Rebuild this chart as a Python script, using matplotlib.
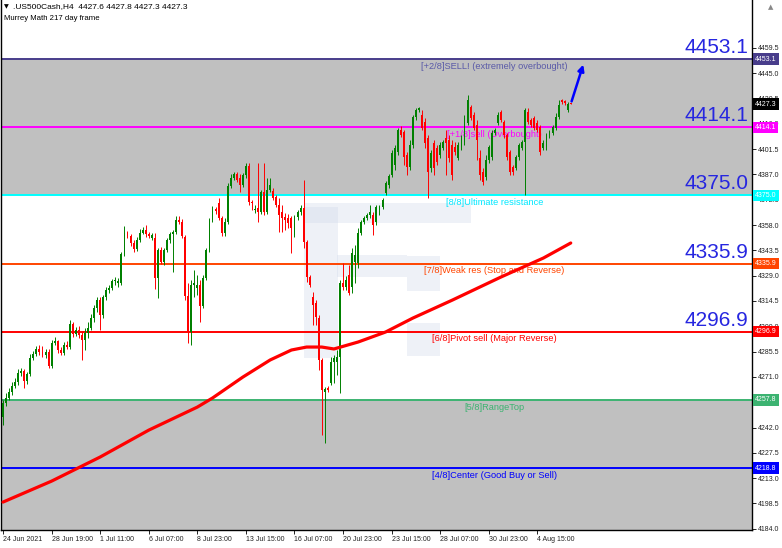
import numpy as np
import matplotlib.pyplot as plt
from matplotlib.patches import Rectangle

plt.rcParams['font.family'] = ['Liberation Sans', 'DejaVu Sans']

# H4 candles, .US500Cash, 24 Jun - 5 Aug 2021
opens = [
    4248.0, 4256.0, 4258.9, 4262.3, 4265.8, 4268.1, 4273.2, 4274.4, 4268.6, 4272.6,
    4281.8, 4284.1, 4287.0, 4285.2, 4283.5, 4285.2, 4277.2, 4290.4, 4291.5, 4286.4,
    4284.7, 4289.3, 4288.1, 4301.3, 4295.5, 4297.8, 4295.0, 4292.1, 4296.1, 4299.0,
    4304.7, 4310.4, 4315.0, 4306.4, 4316.8, 4320.8, 4321.9, 4325.9, 4324.8, 4324.8,
    4341.4, 4353.4, 4351.7, 4347.7, 4344.3, 4349.4, 4353.4, 4355.1, 4352.8, 4350.6,
    4350.6, 4327.6, 4343.7, 4336.8, 4343.7, 4349.4, 4352.8, 4354.0, 4360.9, 4359.7,
    4351.1, 4317.3, 4296.7, 4323.6, 4321.9, 4323.6, 4311.6, 4327.6, 4343.7, 4360.9,
    4367.2, 4370.6, 4362.0, 4353.4, 4359.7, 4380.3, 4384.9, 4387.2, 4384.9, 4380.9,
    4386.6, 4391.8, 4371.2, 4366.6, 4367.7, 4365.4, 4376.9, 4365.4, 4378.0, 4377.5,
    4374.0, 4369.5, 4365.4, 4362.6, 4362.0, 4362.0, 4352.3, 4362.6, 4365.4, 4367.7,
    4348.3, 4328.2, 4316.8, 4313.3, 4304.7, 4280.7, 4262.3, 4264.6, 4267.5, 4279.5,
    4279.5, 4282.4, 4324.8, 4322.5, 4329.4, 4322.5, 4336.8, 4336.2, 4353.4, 4359.7,
    4362.0, 4363.7, 4363.7, 4359.7, 4366.6, 4368.3, 4376.3, 4380.9, 4386.6, 4392.4,
    4399.8, 4412.4, 4411.3, 4398.1, 4391.2, 4403.8, 4419.9, 4423.9, 4421.0, 4417.0,
    4407.8, 4390.7, 4405.0, 4402.1, 4398.1, 4402.1, 4407.8, 4406.7, 4403.8, 4402.7,
    4396.4, 4402.7, 4405.6, 4416.4, 4425.6, 4421.0, 4415.3, 4396.4, 4388.4, 4385.5,
    4395.2, 4397.0, 4410.7, 4416.4, 4422.7, 4417.0, 4409.6, 4399.8, 4391.2, 4390.7,
    4397.0, 4402.1, 4405.6, 4422.7, 4418.2, 4419.3, 4416.4, 4414.1, 4402.1, 4402.7,
    4409.6, 4410.7, 4413.6, 4419.9, 4429.6, 4429.0, 4423.9, 4427.6]
highs = [
    4257.7, 4261.7, 4264.6, 4268.1, 4270.3, 4275.5, 4276.1, 4275.5, 4273.8, 4284.1,
    4285.8, 4288.7, 4289.3, 4288.7, 4287.0, 4287.0, 4292.1, 4293.8, 4292.1, 4288.1,
    4291.0, 4291.5, 4303.6, 4302.4, 4299.6, 4300.1, 4297.3, 4299.0, 4302.4, 4307.0,
    4312.2, 4316.8, 4316.8, 4317.9, 4322.5, 4323.6, 4327.1, 4328.2, 4327.6, 4342.5,
    4357.4, 4354.6, 4352.8, 4349.4, 4351.1, 4355.7, 4356.9, 4358.0, 4354.0, 4353.4,
    4353.4, 4344.8, 4345.4, 4344.8, 4350.6, 4354.0, 4355.1, 4363.2, 4363.2, 4361.4,
    4352.3, 4324.8, 4326.5, 4332.2, 4329.4, 4326.5, 4329.4, 4344.8, 4362.0, 4368.9,
    4368.3, 4373.5, 4363.2, 4362.0, 4382.1, 4387.2, 4388.4, 4388.4, 4387.2, 4387.8,
    4393.5, 4393.5, 4372.3, 4369.5, 4393.5, 4378.0, 4393.5, 4384.9, 4384.9, 4379.2,
    4375.2, 4373.5, 4369.5, 4364.9, 4364.3, 4363.2, 4363.7, 4366.6, 4369.5, 4383.8,
    4349.4, 4329.4, 4319.6, 4315.0, 4306.4, 4281.8, 4265.2, 4265.8, 4282.4, 4283.5,
    4286.4, 4326.5, 4336.2, 4328.8, 4335.1, 4344.8, 4346.5, 4356.3, 4360.9, 4363.2,
    4364.9, 4369.5, 4365.4, 4369.5, 4369.5, 4373.5, 4383.2, 4387.2, 4401.0, 4403.8,
    4413.6, 4414.7, 4412.4, 4399.8, 4406.7, 4421.0, 4425.0, 4425.6, 4423.9, 4419.3,
    4409.6, 4401.0, 4406.7, 4403.8, 4405.6, 4406.7, 4412.4, 4409.6, 4406.7, 4405.6,
    4405.6, 4409.6, 4421.0, 4432.5, 4426.7, 4422.7, 4418.2, 4401.0, 4390.7, 4398.1,
    4403.8, 4412.4, 4413.6, 4422.7, 4423.9, 4418.2, 4410.7, 4401.0, 4392.4, 4398.1,
    4405.0, 4406.7, 4425.0, 4425.0, 4419.3, 4420.4, 4418.2, 4415.3, 4406.7, 4410.7,
    4412.4, 4415.3, 4422.2, 4429.6, 4430.2, 4429.6, 4428.5, 4427.8]
lows = [
    4243.4, 4254.3, 4257.7, 4260.6, 4264.6, 4266.3, 4271.5, 4264.6, 4266.9, 4271.5,
    4280.7, 4283.0, 4283.5, 4282.4, 4281.8, 4276.1, 4276.1, 4289.3, 4284.7, 4283.5,
    4283.5, 4287.0, 4287.0, 4293.8, 4294.4, 4293.3, 4280.7, 4286.4, 4293.3, 4297.8,
    4302.4, 4308.2, 4297.8, 4304.7, 4315.0, 4319.0, 4320.8, 4323.6, 4322.5, 4323.6,
    4340.2, 4350.6, 4346.0, 4342.5, 4343.1, 4348.3, 4352.8, 4351.1, 4350.6, 4349.4,
    4321.3, 4316.2, 4335.7, 4335.1, 4342.5, 4347.7, 4331.1, 4352.8, 4358.6, 4350.6,
    4315.0, 4290.4, 4289.3, 4316.8, 4317.9, 4302.4, 4310.4, 4326.5, 4342.5, 4359.7,
    4364.3, 4360.9, 4351.7, 4351.7, 4358.6, 4379.2, 4383.8, 4382.6, 4376.9, 4379.8,
    4384.9, 4369.5, 4366.6, 4364.9, 4359.7, 4364.3, 4363.7, 4364.3, 4376.9, 4372.3,
    4368.3, 4354.0, 4354.0, 4355.1, 4356.3, 4342.0, 4351.1, 4360.9, 4363.7, 4344.8,
    4325.3, 4322.5, 4300.7, 4300.7, 4274.9, 4237.7, 4233.1, 4262.3, 4266.3, 4267.5,
    4272.1, 4261.7, 4320.8, 4320.8, 4317.9, 4319.0, 4324.8, 4333.4, 4352.3, 4358.6,
    4360.9, 4362.0, 4352.3, 4358.0, 4363.7, 4367.2, 4375.2, 4379.2, 4385.5, 4389.5,
    4398.1, 4408.4, 4392.4, 4386.6, 4389.5, 4402.1, 4418.2, 4422.7, 4412.4, 4402.1,
    4373.5, 4388.4, 4386.6, 4392.4, 4396.4, 4401.0, 4386.6, 4394.1, 4383.8, 4398.1,
    4395.2, 4401.0, 4403.8, 4415.3, 4418.2, 4412.4, 4395.2, 4383.8, 4380.9, 4383.8,
    4393.5, 4395.2, 4409.6, 4415.3, 4417.0, 4407.8, 4395.2, 4386.6, 4386.6, 4389.5,
    4395.2, 4401.0, 4375.2, 4415.9, 4414.1, 4412.4, 4411.3, 4398.1, 4401.0, 4401.0,
    4407.8, 4409.6, 4412.4, 4418.7, 4427.3, 4426.7, 4422.7, 4427.3]
closes = [
    4256.0, 4258.9, 4262.3, 4265.8, 4268.1, 4273.2, 4274.4, 4268.6, 4272.6, 4281.8,
    4284.1, 4287.0, 4285.2, 4283.5, 4285.2, 4277.2, 4290.4, 4291.5, 4286.4, 4284.7,
    4289.3, 4288.1, 4301.3, 4295.5, 4297.8, 4295.0, 4292.1, 4296.1, 4299.0, 4304.7,
    4310.4, 4315.0, 4306.4, 4316.8, 4320.8, 4321.9, 4325.9, 4326.5, 4325.9, 4341.4,
    4353.4, 4351.7, 4347.7, 4344.3, 4349.4, 4353.4, 4355.1, 4352.8, 4351.7, 4352.3,
    4327.6, 4343.7, 4336.8, 4343.7, 4349.4, 4352.8, 4354.0, 4360.9, 4359.7, 4351.7,
    4317.3, 4296.7, 4323.6, 4324.8, 4323.6, 4311.6, 4327.6, 4343.7, 4360.9, 4367.2,
    4366.0, 4362.0, 4353.4, 4359.7, 4380.3, 4384.9, 4387.2, 4383.8, 4380.9, 4386.6,
    4391.8, 4371.2, 4370.6, 4367.2, 4365.4, 4376.9, 4365.4, 4378.0, 4380.9, 4373.5,
    4369.5, 4363.7, 4362.0, 4360.9, 4359.1, 4356.3, 4362.6, 4365.4, 4367.7, 4348.3,
    4328.2, 4323.6, 4312.2, 4305.3, 4280.7, 4263.5, 4264.0, 4263.5, 4279.5, 4281.8,
    4282.4, 4324.8, 4322.5, 4326.5, 4319.0, 4342.0, 4340.8, 4353.4, 4359.7, 4362.0,
    4363.7, 4365.4, 4358.0, 4368.3, 4368.3, 4372.3, 4382.1, 4386.1, 4399.2, 4402.1,
    4412.4, 4409.6, 4397.0, 4391.2, 4403.8, 4419.9, 4423.9, 4425.0, 4413.6, 4405.0,
    4388.4, 4399.2, 4390.7, 4394.1, 4403.8, 4405.6, 4405.0, 4396.4, 4386.6, 4399.8,
    4403.8, 4407.8, 4419.3, 4429.6, 4419.3, 4413.6, 4406.7, 4386.6, 4382.6, 4395.2,
    4402.7, 4410.7, 4412.4, 4421.0, 4418.2, 4409.6, 4397.0, 4388.4, 4388.4, 4397.0,
    4403.8, 4405.6, 4423.9, 4417.0, 4415.3, 4413.6, 4412.4, 4399.8, 4405.0, 4409.6,
    4411.3, 4414.1, 4419.9, 4426.7, 4428.5, 4427.9, 4427.3, 4427.3]

# 217-period moving average (bar index, value)
ma_bar = [0, 16, 32, 48, 64, 69, 79, 88, 95, 100, 105, 109, 117, 126, 135, 148, 164, 178, 187]
ma_val = [4199.3, 4211.3, 4225.1, 4240.5, 4253.7, 4258.9, 4270.9, 4280.7, 4286.4, 4288.1,
          4288.1, 4287.0, 4291.0, 4296.7, 4304.7, 4315.0, 4328.2, 4339.1, 4347.7]

# Murrey Math levels
level_val = [4453.1, 4414.1, 4375.0, 4335.9, 4296.9, 4257.8, 4218.8]
level_txt = ['[+2/8]SELL! (extremely overbought)', '[+1/8]sell (Overbought)',
             '[8/8]Ultimate resistance', '[7/8]Weak res (Stop and Reverse)',
             '[6/8]Pivot sell (Major Reverse)', '[5/8]RangeTop',
             '[4/8]Center (Good Buy or Sell)']
level_col = ['#483d8b', '#ff00ff', '#00ffff', '#ff4500', '#ff0000', '#3cb371', '#0000ff']
level_txtcol = ['#5a5aa8', '#ff00ff', '#00e8ff', '#ff4500', '#ff0000', '#3cb371', '#0000ff']
big_vals = [4453.1, 4414.1, 4375.0, 4335.9, 4296.9]

last_price = 4427.3
y_ticks = [4184.0, 4198.5, 4213.0, 4227.5, 4242.0, 4256.5, 4271.0, 4285.5, 4300.0, 4314.5,
           4329.0, 4343.5, 4358.0, 4372.5, 4387.0, 4401.5, 4416.0, 4430.5, 4445.0, 4459.5]
x_tick_bar = [0, 16, 32, 48, 64, 80, 96, 112, 128, 144, 160, 176]
x_tick_lbl = ['24 Jun 2021', '28 Jun 19:00', '1 Jul 11:00', '6 Jul 07:00', '8 Jul 23:00',
              '13 Jul 15:00', '16 Jul 07:00', '20 Jul 23:00', '23 Jul 15:00',
              '28 Jul 07:00', '30 Jul 23:00', '4 Aug 15:00']

W, H = 782, 548
fig = plt.figure(figsize=(W / 100, H / 100), dpi=100)
ax = fig.add_axes([1 / W, 18 / H, 751 / W, 530 / H])
ax.set_xlim(-0.66, 246.7)
ax.set_ylim(4183.3, 4486.9)

# gray zones
ax.axhspan(4375.0, 4453.1, color='#c0c0c0', lw=0, zorder=0)
ax.axhspan(4183.3, 4257.8, color='#c0c0c0', lw=0, zorder=0)

# faint logo watermark
for (x0, y0, w, h) in [(99, 4282.0, 11.5, 86.5), (99, 4359.0, 55, 11.5),
                       (133, 4320.0, 11, 20), (133, 4283, 11, 19), (110, 4328, 23, 13)]:
    ax.add_patch(Rectangle((x0, y0), w, h, color='#cfd8ea', alpha=0.35, lw=0, zorder=0.5))

# levels
for v, c in zip(level_val, level_col):
    ax.axhline(v, color=c, lw=1.4, zorder=1)
for v, t, c in zip(level_val, level_txt, level_txtcol):
    ax.text(161.8, v - 1.6, t, color=c, fontsize=6.7, ha='center', va='top', zorder=2)
for v in big_vals:
    ax.text(245.4, v + 1.2, f'{v:.1f}', color='#2626e0', fontsize=15, ha='right',
            va='bottom', zorder=2)

# candles
idx = np.arange(len(closes))
o = np.array(opens); h = np.array(highs); l = np.array(lows); c = np.array(closes)
up = c >= o
cols = np.where(up, '#008000', '#ff0000')
ax.vlines(idx, l, h, colors=cols, lw=0.7, zorder=3)
body_lo = np.minimum(o, c)
body_h = np.maximum(np.abs(c - o), 0.5)
ax.bar(idx, body_h, bottom=body_lo, width=0.62, color=cols, lw=0, zorder=3)

# moving average
ax.plot(ma_bar, ma_val, color='#ff0000', lw=2.3, solid_capstyle='round', zorder=4)

# arrow
ax.annotate('', xy=(191.4, 4451.4), xytext=(idx[-1], closes[-1]),
            arrowprops=dict(arrowstyle='-|>', color='#0000ff', lw=1.8, mutation_scale=9),
            zorder=5)

# axes styling
ax.spines['top'].set_visible(False)
for s in ['left', 'bottom', 'right']:
    ax.spines[s].set_color('black')
    ax.spines[s].set_linewidth(1)
ax.yaxis.tick_right()
ax.set_yticks(y_ticks)
ax.set_yticklabels([f'{t:.1f}' for t in y_ticks])
ax.tick_params(axis='y', length=3, width=0.7, labelsize=5.0, pad=1.5, colors='#222222')
ax.set_xticks(x_tick_bar)
ax.set_xticklabels(x_tick_lbl)
ax.tick_params(axis='x', length=3, width=0.7, labelsize=5.0, pad=1.5, colors='#222222')
for lbl in ax.get_xticklabels():
    lbl.set_ha('left')

# right-axis price boxes
for v, bc in zip(level_val, level_col):
    ax.text(1.004, v, f'{v:.1f}', transform=ax.get_yaxis_transform(), color='white',
            fontsize=5.0, va='center', ha='left', zorder=6, clip_on=False,
            bbox=dict(boxstyle='square,pad=0.3', fc=bc, ec='none'))
ax.text(1.004, last_price, f'{last_price:.1f}', transform=ax.get_yaxis_transform(),
        color='white', fontsize=5.0, va='center', ha='left', zorder=6, clip_on=False,
        bbox=dict(boxstyle='square,pad=0.3', fc='black', ec='none'))

# header
ax.text(0.004, 0.992, '\u25bc', transform=ax.transAxes, fontsize=4.5, va='top',
        family=['DejaVu Sans'])
ax.text(0.016, 0.995, '.US500Cash,H4  4427.6 4427.8 4427.3 4427.3', transform=ax.transAxes,
        fontsize=6.0, va='top')
ax.text(0.004, 0.972, 'Murrey Math 217 day frame', transform=ax.transAxes,
        fontsize=5.6, va='top')
fig.text(0.985, 0.992, '\u25b2', fontsize=5, color='#888888', ha='center', va='top',
         family=['DejaVu Sans'])

fig.savefig('out.png', dpi=100)
